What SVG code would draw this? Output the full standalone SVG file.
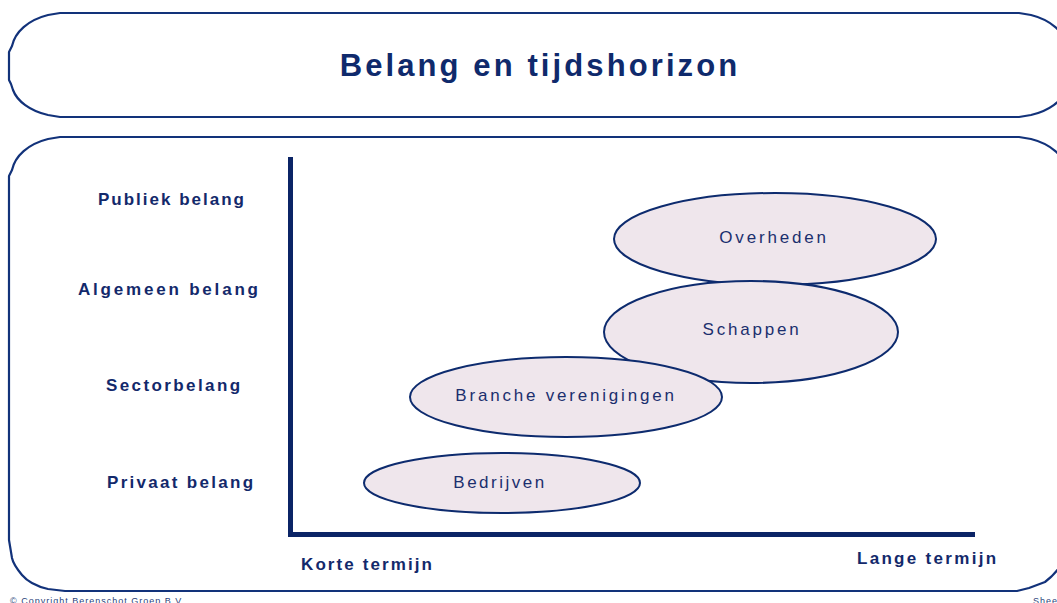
<svg xmlns="http://www.w3.org/2000/svg" width="1057" height="603" viewBox="0 0 1057 603">
<style>
.frame{fill:none;stroke:#12327a;stroke-width:2.2;stroke-linejoin:round}
.axis{fill:#0b2466}
.ell{fill:#efe6ec;stroke:#0d2b6e;stroke-width:2}
.lbl{font-family:"Liberation Sans",Arial,sans-serif;font-size:17px;fill:#1b2f6e;letter-spacing:2.8px;text-anchor:middle}
.ylab{font-family:"Liberation Sans",Arial,sans-serif;font-size:17px;font-weight:bold;fill:#13296b;letter-spacing:2.1px}
.title{font-family:"Liberation Sans",Arial,sans-serif;font-size:31px;font-weight:bold;fill:#0f2a6c;letter-spacing:3.1px;text-anchor:middle}
.foot{font-family:"Liberation Sans",Arial,sans-serif;font-size:9px;fill:#2a3f7a;letter-spacing:1px}
</style>
<g id="title-frame">
<path class="frame" d="M60,13 H1019 L1031,15 C1051,20 1064,32 1067,46 L1070,52 V80 L1068,84 L1066,90 C1062,101 1049,111 1031,115 L1019,117 H60 L48,115 C30,111 17,101 13,90 L11,84 L9,80 V52 L12,46 C15,32 28,20 48,15 Z"/>
<text class="title" x="540" y="76">Belang en tijdshorizon</text>
</g>
<g id="content-frame">
<path class="frame" d="M60,137 H1019 L1031,139 C1051,144 1064,156 1067,170 L1070,176 V540 L1068,548 C1066,560 1057,573 1045,582 L1029,588 L1017,591 H65 L48,589 C35,586 27,581 22,575 C17,569 13,563 12,558 L9,540 V176 L12,170 C15,156 28,144 48,139 Z"/>
</g>
<g id="axes">
<rect class="axis" x="288" y="157" width="5" height="380"/>
<rect class="axis" x="288" y="532" width="687" height="5"/>
</g>
<g id="y-labels">
<text class="ylab" x="98" y="205" style="letter-spacing:2px">Publiek belang</text>
<text class="ylab" x="78" y="295" style="letter-spacing:2.8px">Algemeen belang</text>
<text class="ylab" x="106" y="391" style="letter-spacing:2.4px">Sectorbelang</text>
<text class="ylab" x="107" y="488" style="letter-spacing:2.3px">Privaat belang</text>
</g>
<g id="x-labels">
<text class="ylab" x="301" y="570">Korte termijn</text>
<text class="ylab" x="857" y="564" style="letter-spacing:2.3px">Lange termijn</text>
</g>
<g id="node-overheden">
<ellipse class="ell" cx="775" cy="239" rx="161" ry="46"/>
<text class="lbl" x="774" y="243">Overheden</text>
</g>
<g id="node-schappen">
<ellipse class="ell" cx="751" cy="332" rx="147" ry="51"/>
<text class="lbl" x="752" y="335">Schappen</text>
</g>
<g id="node-branche">
<ellipse class="ell" cx="566" cy="397" rx="156" ry="40"/>
<text class="lbl" x="566" y="401">Branche verenigingen</text>
</g>
<g id="node-bedrijven">
<ellipse class="ell" cx="502" cy="483" rx="138" ry="30"/>
<text class="lbl" x="500" y="488" style="letter-spacing:2.5px">Bedrijven</text>
</g>
<g id="footer">
<text class="foot" x="10" y="604">© Copyright Berenschot Groep B.V.</text>
<text class="foot" x="1033" y="604">Sheet</text>
</g>
</svg>
